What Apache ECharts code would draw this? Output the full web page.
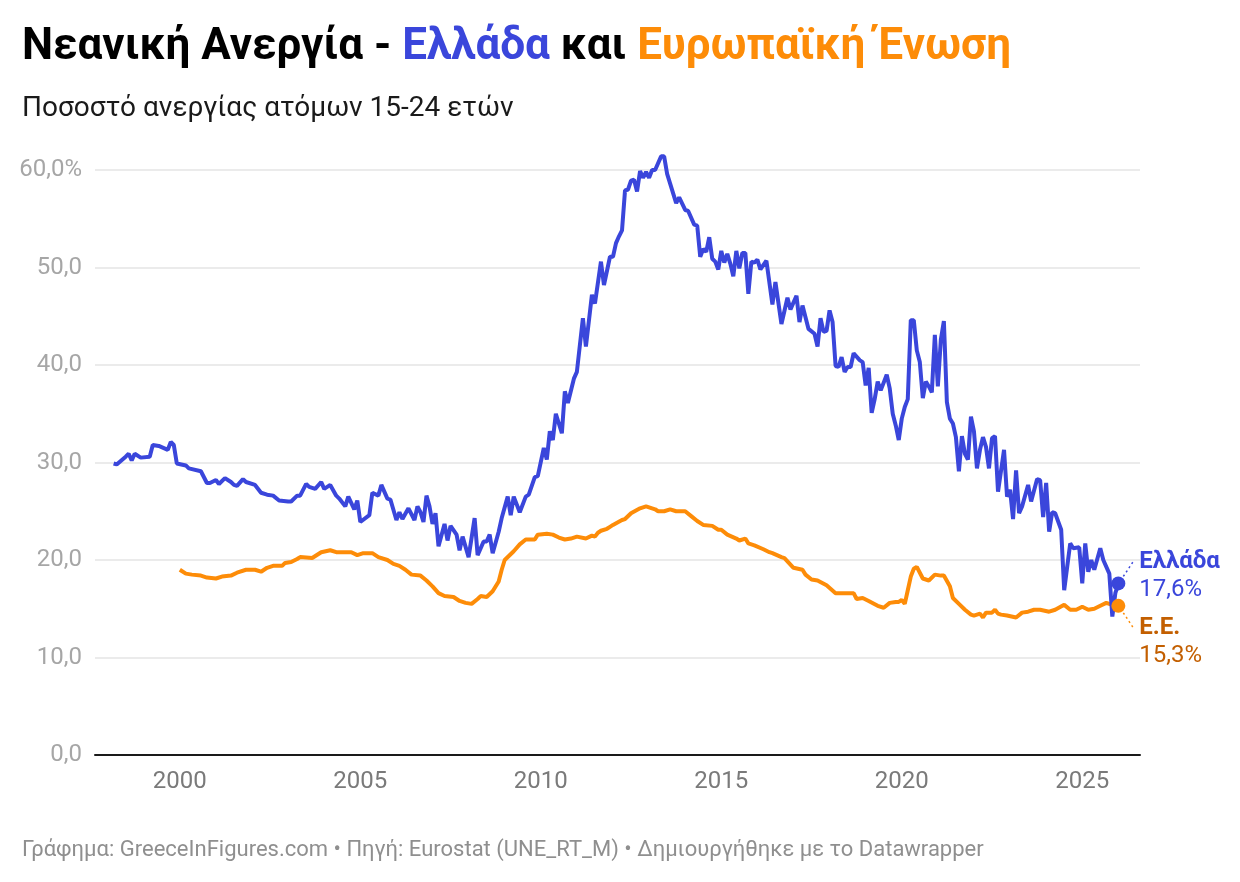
<!DOCTYPE html>
<html><head><meta charset="utf-8">
<script src="https://cdn.jsdelivr.net/npm/echarts@6/dist/echarts.min.js"></script>
<style>html,body{margin:0;padding:0;background:#fff}#c{width:1240px;height:882px}</style>
</head><body><div id="c"></div>
<script>
// ---- DATA ----
const greeceMonths = [
'1998-03','1998-04','1998-07','1998-08','1998-09','1998-10','1998-12',
'1999-03','1999-04','1999-06','1999-09','1999-10','1999-11','1999-12',
'2000-03','2000-04','2000-08','2000-10','2000-11',
'2001-01','2001-02','2001-04','2001-06','2001-07','2001-08','2001-10','2001-11',
'2002-02','2002-04','2002-06','2002-08','2002-10',
'2003-01','2003-02','2003-04','2003-05','2003-07','2003-08','2003-10','2003-12',
'2004-01','2004-03','2004-05','2004-06','2004-08','2004-09','2004-11','2004-12',
'2005-01','2005-04','2005-05','2005-07','2005-08','2005-10','2005-11',
'2006-01','2006-02','2006-03','2006-05','2006-07','2006-08','2006-09','2006-10','2006-11','2006-12',
'2007-01','2007-02','2007-03','2007-05','2007-06','2007-07','2007-09','2007-10','2007-11',
'2008-01','2008-03','2008-04','2008-06','2008-07','2008-08','2008-09','2008-11','2008-12',
'2009-02','2009-03','2009-04','2009-06','2009-08','2009-09','2009-11','2009-12',
'2010-02','2010-03','2010-04','2010-05','2010-06','2010-08','2010-09','2010-10','2010-12',
'2011-01','2011-03','2011-04','2011-06','2011-07','2011-09','2011-10','2011-12',
'2012-01','2012-02','2012-03','2012-04','2012-05','2012-06','2012-07','2012-08','2012-09','2012-10','2012-11','2012-12',
'2013-01','2013-02','2013-03','2013-05','2013-06','2013-07','2013-08','2013-10','2013-11',
'2014-01','2014-02','2014-04','2014-05','2014-06','2014-07','2014-08','2014-09','2014-10','2014-11','2014-12',
'2015-01','2015-02','2015-03','2015-04','2015-05','2015-06','2015-07','2015-08','2015-09','2015-10','2015-11','2015-12',
'2016-01','2016-02','2016-04','2016-06','2016-07','2016-09','2016-11','2016-12',
'2017-02','2017-03','2017-04','2017-06','2017-08','2017-09','2017-10','2017-11','2017-12',
'2018-01','2018-02','2018-03','2018-04','2018-05','2018-06','2018-07','2018-08','2018-09','2018-11','2018-12',
'2019-01','2019-02','2019-03','2019-04','2019-05','2019-06','2019-08','2019-09','2019-10','2019-11','2019-12',
'2020-01','2020-02','2020-03','2020-04','2020-05','2020-06','2020-07','2020-08','2020-09','2020-10','2020-11','2020-12',
'2021-01','2021-02','2021-03','2021-04','2021-05','2021-06','2021-07','2021-08','2021-09','2021-10','2021-11','2021-12',
'2022-01','2022-02','2022-03','2022-04','2022-05','2022-06','2022-07','2022-08','2022-09','2022-11','2022-12',
'2023-01','2023-02','2023-03','2023-04','2023-05','2023-07','2023-08','2023-10','2023-11','2023-12',
'2024-01','2024-02','2024-03','2024-04','2024-06','2024-07','2024-08','2024-09','2024-10','2024-12',
'2025-01','2025-02','2025-03','2025-04','2025-05','2025-07','2025-08','2025-10','2025-11','2025-12',
'2026-01'
];
const greeceRates = [
29.9,29.8,30.6,30.9,30.2,30.9,30.5,
30.6,31.8,31.7,31.3,32.1,31.8,29.9,
29.7,29.4,29.1,27.9,27.9,
28.2,27.8,28.4,28.0,27.7,27.6,28.3,28.0,
27.7,26.9,26.7,26.6,26.1,
26.0,26.0,26.6,26.6,27.8,27.5,27.3,28.0,
27.3,27.7,26.6,26.3,25.5,26.5,25.2,26.1,
23.9,24.6,26.9,26.6,27.7,26.3,26.2,
24.1,24.9,24.2,25.3,24.1,25.5,24.9,23.9,26.6,25.5,
23.7,24.8,21.4,23.7,22.0,23.5,22.6,21.0,22.4,
20.3,24.3,20.5,21.9,21.9,22.6,20.7,22.9,24.3,
26.5,24.6,26.5,24.9,26.5,26.7,28.5,28.6,
31.5,30.3,33.2,32.3,35.0,33.0,37.3,36.1,38.6,
39.3,44.8,41.9,47.2,46.3,50.6,48.2,51.1,
51.1,52.5,53.2,53.8,57.9,58.0,58.9,59.0,57.8,59.9,59.2,59.8,
59.2,60.0,60.0,61.4,61.4,59.6,58.6,56.6,57.2,
55.9,55.8,54.4,54.3,51.1,51.9,51.6,53.1,50.9,50.6,49.8,
51.7,50.5,51.4,50.4,49.1,51.7,49.9,51.5,51.5,47.3,50.6,50.5,
50.8,49.8,50.7,46.2,48.5,44.2,46.9,45.7,
47.1,44.4,46.1,43.7,43.2,41.9,44.8,43.4,43.5,
45.6,44.4,39.9,39.8,40.8,39.3,39.8,39.8,41.2,40.5,40.3,
37.9,39.7,35.1,36.5,38.3,37.4,39.0,37.6,35.0,33.8,32.3,
34.5,35.7,36.5,44.6,44.6,41.5,40.3,36.6,38.3,37.8,37.2,43.1,
37.8,42.6,44.5,36.2,34.5,34.0,32.6,29.1,32.7,30.9,30.3,34.7,
33.2,29.4,31.3,32.6,31.6,29.4,32.5,32.7,27.0,31.3,26.5,
27.2,24.2,29.2,24.8,25.5,27.7,26.0,28.3,28.2,24.4,
27.9,22.9,24.9,24.8,23.1,16.9,19.3,21.7,21.2,21.3,
17.6,21.7,18.8,20.0,19.0,21.2,20.0,18.6,14.2,16.6,
17.6
];
const euMonths = [
'2000-01','2000-03','2000-05','2000-08','2000-10',
'2001-01','2001-03','2001-06','2001-08','2001-11',
'2002-02','2002-04','2002-06','2002-08','2002-11','2002-12',
'2003-02','2003-04','2003-05','2003-09','2003-12',
'2004-03','2004-05','2004-08','2004-10','2004-12',
'2005-02','2005-05','2005-07','2005-10','2005-12',
'2006-02','2006-04','2006-06','2006-09','2006-11',
'2007-01','2007-03','2007-05','2007-08','2007-10','2007-12',
'2008-02','2008-04','2008-05','2008-07','2008-09','2008-11','2008-12',
'2009-01','2009-04','2009-06','2009-08','2009-11','2009-12',
'2010-03','2010-05','2010-07','2010-09','2010-11',
'2011-01','2011-04','2011-06','2011-07','2011-08','2011-09','2011-11','2011-12',
'2012-01','2012-04','2012-05','2012-07','2012-10','2012-12',
'2013-03','2013-04','2013-06','2013-08','2013-10',
'2014-01','2014-03','2014-05','2014-07','2014-10','2014-12',
'2015-01','2015-03','2015-06','2015-07','2015-09','2015-10','2015-12',
'2016-03','2016-05','2016-06','2016-09','2016-10',
'2017-01','2017-04','2017-05','2017-07','2017-09','2017-12',
'2018-03','2018-06','2018-09','2018-10','2018-12',
'2019-02','2019-05','2019-07','2019-09','2019-11','2019-12',
'2020-01','2020-02','2020-03','2020-04','2020-05','2020-06','2020-08','2020-10','2020-12',
'2021-02','2021-03','2021-05','2021-06','2021-08','2021-10','2021-12',
'2022-01','2022-03','2022-04','2022-05','2022-07','2022-08','2022-09','2022-10','2022-12',
'2023-03','2023-05','2023-07','2023-09','2023-11',
'2024-02','2024-04','2024-07','2024-09','2024-11',
'2025-01','2025-03','2025-05','2025-07','2025-09','2025-11',
'2026-01'
];
const euRates = [
19.0,18.6,18.5,18.4,18.2,
18.1,18.3,18.4,18.7,19.0,
19.0,18.8,19.2,19.4,19.4,19.7,
19.8,20.1,20.3,20.2,20.8,
21.0,20.8,20.8,20.8,20.5,
20.7,20.7,20.3,20.0,19.6,
19.4,19.0,18.5,18.4,17.9,
17.3,16.6,16.3,16.2,15.8,15.6,
15.5,16.0,16.3,16.2,16.8,17.8,19.0,
20.0,20.9,21.6,22.1,22.1,22.6,
22.7,22.6,22.3,22.1,22.2,
22.4,22.2,22.5,22.4,22.8,23.0,23.2,23.4,
23.6,24.1,24.2,24.8,25.3,25.5,
25.2,25.0,25.0,25.2,25.0,
25.0,24.5,24.0,23.6,23.5,23.1,
23.1,22.6,22.2,22.0,22.2,21.7,21.5,
21.1,20.8,20.7,20.3,20.2,
19.2,19.0,18.5,18.0,17.9,17.4,
16.6,16.6,16.6,16.0,16.1,
15.8,15.3,15.1,15.6,15.7,15.7,
15.9,15.5,16.9,18.3,19.1,19.3,18.1,17.9,18.5,
18.4,18.4,17.3,16.1,15.5,14.9,14.4,
14.3,14.5,14.1,14.6,14.6,14.9,14.5,14.4,14.3,
14.1,14.6,14.7,14.9,14.9,
14.7,14.9,15.4,14.9,14.9,
15.2,14.9,15.0,15.3,15.6,15.4,
15.3
];
const yTicks = [0, 10, 20, 30, 40, 50, 60];
const xTickYears = [2000, 2005, 2010, 2015, 2020, 2025];
const seriesNames = ['Ελλάδα', 'Ε.Ε.'];

// ---- HELPERS ----
const BLUE = '#3a46db', ORANGE = '#fd8c08', DARK_OR = '#c35f00';
const toYear = s => { const [y, m] = s.split('-').map(Number); return y + (m - 1) / 12; };
const pairs = (ms, vs) => ms.map((m, i) => [toYear(m), vs[i]]);
const gr = pairs(greeceMonths, greeceRates);
const eu = pairs(euMonths, euRates);
const fmt = v => v.toFixed(1).replace('.', ',');

const chart = echarts.init(document.getElementById('c'), null, {renderer: 'canvas'});
const FONT = 'Roboto';

chart.setOption({
  animation: false,
  backgroundColor: '#fff',
  textStyle: {fontFamily: FONT},
  title: [
    {
      left: 17, top: 21,
      text: '{a|Νεανική Ανεργία - }{b|Ελλάδα}{a| και }{c|Ευρωπαϊκή Ένωση}',
      textStyle: {
        rich: {
          a: {fontFamily: FONT, fontSize: 44, fontWeight: 'bold', color: '#000'},
          b: {fontFamily: FONT, fontSize: 44, fontWeight: 'bold', color: BLUE},
          c: {fontFamily: FONT, fontSize: 44, fontWeight: 'bold', color: ORANGE}
        }
      }
    },
    {
      left: 17, top: 90,
      text: 'Ποσοστό ανεργίας ατόμων 15-24 ετών',
      textStyle: {fontFamily: FONT, fontSize: 28, fontWeight: 'normal', color: '#1a1a1a'}
    },
    {
      left: 17, top: 834,
      text: 'Γράφημα: GreeceInFigures.com • Πηγή: Eurostat (UNE_RT_M) • Δημιουργήθηκε με το Datawrapper',
      textStyle: {fontFamily: FONT, fontSize: 22, fontWeight: 'normal', color: '#8f8f8f'}
    }
  ],
  grid: {left: 95, right: 100, top: 170, bottom: 127, containLabel: false},
  xAxis: {
    type: 'value', min: 1997.65, max: 2026.6,
    axisLine: {show: true, onZero: false, lineStyle: {color: '#1a1a1a', width: 2}},
    axisTick: {show: false},
    splitLine: {show: false},
    axisLabel: {
      show: true, color: '#7a7a7a', fontSize: 24, fontFamily: FONT, margin: 15,
      showMinLabel: true, showMaxLabel: true,
      formatter: v => xTickYears.includes(Math.round(v)) && Math.abs(v - Math.round(v)) < 1e-6 ? String(Math.round(v)) : ''
    }
  },
  yAxis: {
    type: 'value', min: yTicks[0], max: yTicks[yTicks.length - 1], interval: 10,
    axisLine: {show: false}, axisTick: {show: false},
    splitLine: {lineStyle: {color: '#e4e4e4', width: 1.5}},
    axisLabel: {
      color: '#a6a6a6', fontSize: 24, fontFamily: FONT, margin: 13,
      formatter: v => v === yTicks[yTicks.length - 1] ? fmt(v) + '%' : fmt(v)
    }
  },
  series: [
    {
      name: seriesNames[1], type: 'line', data: eu, showSymbol: false, clip: false,
      lineStyle: {color: ORANGE, width: 4}, z: 2
    },
    {
      name: seriesNames[0], type: 'line', data: gr, showSymbol: false, clip: false,
      lineStyle: {color: BLUE, width: 4}, z: 3
    },
    {
      type: 'scatter', symbolSize: 14, z: 5, clip: false,
      data: [
        {value: gr[gr.length - 1], itemStyle: {color: BLUE, opacity: 1},
          label: {show: true, position: 'right', distance: 14, offset: [0, -7],
            formatter: '{n|' + seriesNames[0] + '}\n{v|' + fmt(greeceRates[greeceRates.length - 1]) + '%}',
            rich: {
              n: {fontFamily: FONT, fontSize: 24, fontWeight: 'bold', color: BLUE, lineHeight: 28},
              v: {fontFamily: FONT, fontSize: 24, color: BLUE, lineHeight: 28}
            }}},
        {value: eu[eu.length - 1], itemStyle: {color: ORANGE, opacity: 1},
          label: {show: true, position: 'right', distance: 14, offset: [0, 36],
            formatter: '{n|' + seriesNames[1] + '}\n{v|' + fmt(euRates[euRates.length - 1]) + '%}',
            rich: {
              n: {fontFamily: FONT, fontSize: 24, fontWeight: 'bold', color: DARK_OR, lineHeight: 28},
              v: {fontFamily: FONT, fontSize: 24, color: DARK_OR, lineHeight: 28}
            }}}
      ]
    }
  ]
});

// dotted leader lines from end dots to their labels
const pg = chart.convertToPixel({gridIndex: 0}, gr[gr.length - 1]);
const pe = chart.convertToPixel({gridIndex: 0}, eu[eu.length - 1]);
chart.setOption({
  graphic: [
    {type: 'line', shape: {x1: pg[0] + 5, y1: pg[1] - 7, x2: pg[0] + 15, y2: pg[1] - 22},
      style: {stroke: BLUE, lineWidth: 1.5, lineDash: [2, 3]}},
    {type: 'line', shape: {x1: pe[0] + 5, y1: pe[1] + 7, x2: pe[0] + 15, y2: pe[1] + 22},
      style: {stroke: ORANGE, lineWidth: 1.5, lineDash: [2, 3]}}
  ]
});
</script></body></html>
